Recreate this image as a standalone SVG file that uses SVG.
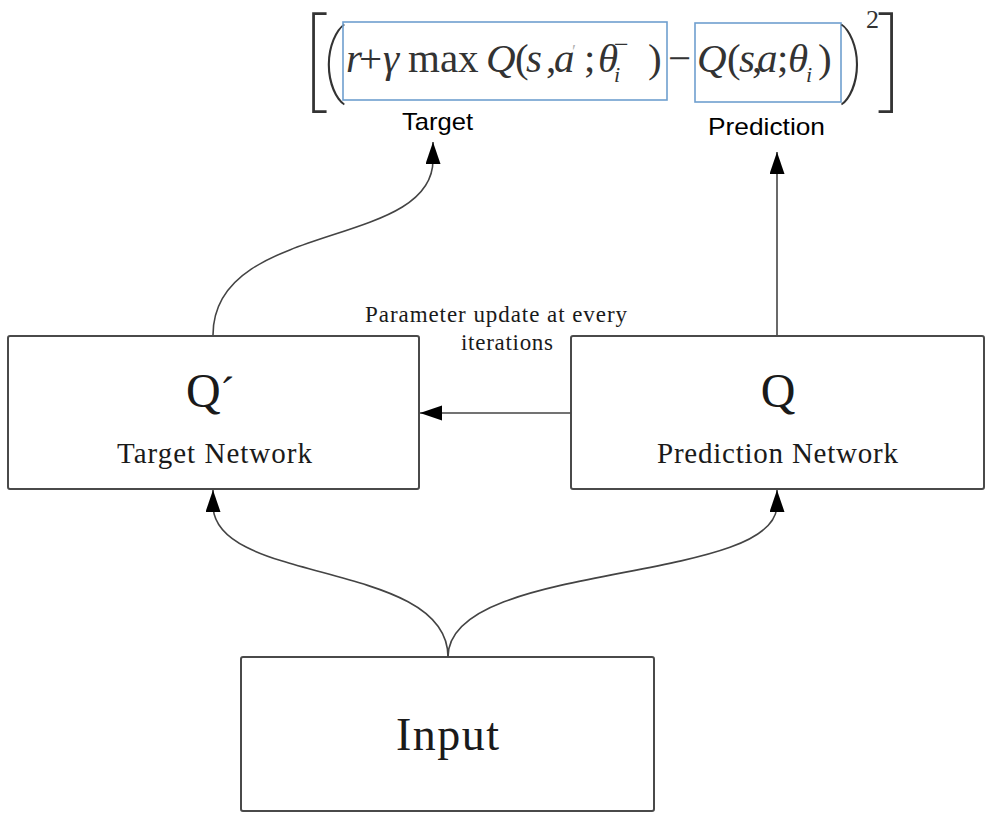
<svg xmlns="http://www.w3.org/2000/svg" width="991" height="818" viewBox="0 0 991 818">
<defs>
<style>
.box{fill:#fff;stroke:#4a4a4a;stroke-width:2}
.lbl{font-family:"Liberation Serif",serif;fill:#1a1a1a}
.fx{font-family:"Liberation Serif",serif;fill:#333;font-size:41px}
.it{font-style:italic}
.dl{font-family:Roboto,"Liberation Sans",sans-serif;font-weight:100;fill:#333}
.sans{font-family:"Liberation Sans",Arial,sans-serif;fill:#000;font-size:24px}
.conn{fill:none;stroke:#444;stroke-width:1.6}
.hl{fill:none;stroke:#6f9fcf;stroke-width:1.6}
</style>
<marker id="ah" markerUnits="userSpaceOnUse" markerWidth="22" markerHeight="16" refX="22" refY="7.5" orient="auto">
<path d="M0,0 L22,7.5 L0,15 z" fill="#000"/>
</marker>
</defs>
<rect width="991" height="818" fill="#fff"/>

<g id="formula">
<text class="dl" x="303" y="97" style="font-size:104px">[</text>
<text class="dl" x="322" y="87" style="font-size:80px">(</text>
<rect class="hl" x="343" y="22" width="324" height="78"/>
<text class="fx" y="72"><tspan class="it" x="346">r</tspan><tspan x="359">+</tspan><tspan class="it" x="383">γ</tspan><tspan x="408">max</tspan><tspan class="it" x="486">Q</tspan><tspan x="515">(</tspan><tspan class="it" x="526">s</tspan><tspan x="546">,</tspan><tspan class="it" x="554">a</tspan><tspan x="572" y="58" style="font-size:18px;fill:#b0b0b0">′</tspan><tspan x="584" y="72">;</tspan><tspan class="it" x="598">θ</tspan><tspan class="it" x="614" y="82" style="font-size:22px">i</tspan><tspan x="614" y="53" style="font-size:26px">−</tspan><tspan x="648" y="72">)</tspan></text>
<text class="fx" x="668" y="72">−</text>
<rect class="hl" x="695" y="23" width="146" height="79"/>
<text class="fx" y="72"><tspan class="it" x="697">Q</tspan><tspan x="727">(</tspan><tspan class="it" x="739">s</tspan><tspan x="752">,</tspan><tspan class="it" x="757">a</tspan><tspan x="777">;</tspan><tspan class="it" x="788">θ</tspan><tspan class="it" x="806" y="82" style="font-size:22px">i</tspan><tspan x="818" y="72">)</tspan></text>
<text class="dl" x="840" y="87" style="font-size:80px">)</text>
<text class="fx" x="866" y="28" style="font-size:26px;font-style:normal">2</text>
<text class="dl" x="879" y="97" style="font-size:104px">]</text>
<text class="sans" x="402" y="130" textLength="71" lengthAdjust="spacingAndGlyphs">Target</text>
<text class="sans" x="708" y="135" textLength="117" lengthAdjust="spacingAndGlyphs">Prediction</text>
</g>

<g id="target-network">
<rect class="box" x="8" y="336" width="411" height="153" rx="2"/>
<text class="lbl" x="186" y="407" style="font-size:48px">Q</text>
<text class="lbl" x="220" y="407" style="font-size:44px">´</text>
<text class="lbl" x="117" y="463" style="font-size:29px" textLength="195" lengthAdjust="spacing">Target Network</text>
</g>

<g id="prediction-network">
<rect class="box" x="571" y="336" width="413" height="153" rx="2"/>
<text class="lbl" x="778" y="407" text-anchor="middle" style="font-size:48px">Q</text>
<text class="lbl" x="657" y="463" style="font-size:29px" textLength="241" lengthAdjust="spacing">Prediction Network</text>
</g>

<g id="input">
<rect class="box" x="241" y="657" width="413" height="154" rx="2"/>
<text class="lbl" x="396" y="750" style="font-size:46px" textLength="103" lengthAdjust="spacing">Input</text>
</g>

<g id="update-label">
<text class="lbl" x="365" y="322" style="font-size:23px" textLength="262" lengthAdjust="spacing">Parameter update at every</text>
<text class="lbl" x="461" y="350" style="font-size:23px" textLength="92" lengthAdjust="spacing">iterations</text>
</g>

<g id="connectors">
<path class="conn" d="M213,335 C213,220 433,250 433,160 L433,142" marker-end="url(#ah)"/>
<path class="conn" d="M777,335 L777,152" marker-end="url(#ah)"/>
<path class="conn" d="M571,413 L420,413" marker-end="url(#ah)"/>
<path class="conn" d="M448,657 C448,560 213,585 213,505 L213,490" marker-end="url(#ah)"/>
<path class="conn" d="M448,657 C448,560 777,585 777,505 L777,490" marker-end="url(#ah)"/>
</g>
</svg>
